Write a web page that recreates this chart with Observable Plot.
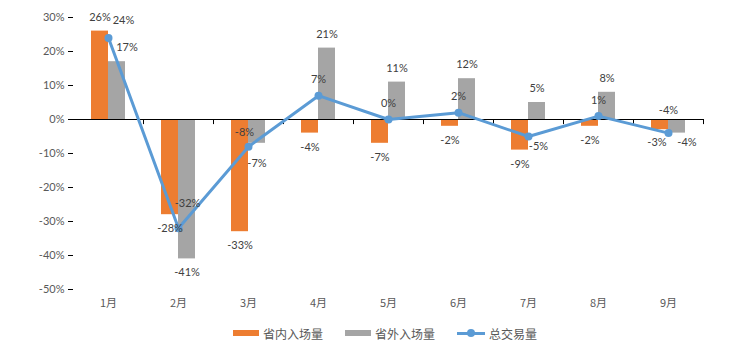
<!DOCTYPE html>
<html><head><meta charset="utf-8">
<script src="https://cdn.jsdelivr.net/npm/d3@7"></script>
<script src="https://cdn.jsdelivr.net/npm/@observablehq/plot@0.6"></script>
<style>
body{margin:0;background:#fff;font-family:Lato,"Noto Sans CJK SC",sans-serif;}
#chart svg{display:block;}
.legend{display:flex;align-items:center;height:34px;padding-left:233px;font-family:"Noto Sans CJK SC",sans-serif;font-size:12px;color:#595959;}
.item{display:flex;align-items:center;margin-right:22px;}
.sw{display:inline-block;width:26px;height:6px;margin-right:4px;}
.ln{position:relative;width:28px;height:3px;background:#5B9BD5;margin-right:4px;}
.ln::after{content:"";position:absolute;left:10px;top:-2.5px;width:8px;height:8px;border-radius:50%;background:#5B9BD5;}
</style></head><body>
<div id="chart"></div>
<div class="legend">
  <div class="item"><span class="sw" style="background:#ED7D31"></span><span id="l1"></span></div>
  <div class="item"><span class="sw" style="background:#A5A5A5"></span><span id="l2"></span></div>
  <div class="item"><span class="ln"></span><span id="l3"></span></div>
</div>
<script>
const months = ["1月","2月","3月","4月","5月","6月","7月","8月","9月"];
const inProv = [26,-28,-33,-4,-7,-2,-9,-2,-3];
const outProv = [17,-41,-7,21,11,12,5,8,-4];
const total = [24,-32,-8,7,0,2,-5,1,-4];
const yTicks = [30,20,10,0,-10,-20,-30,-40,-50];
const seriesNames = ["省内入场量","省外入场量","总交易量"];

document.getElementById("l1").textContent = seriesNames[0];
document.getElementById("l2").textContent = seriesNames[1];
document.getElementById("l3").textContent = seriesNames[2];

const inData = months.map((m,i)=>({m, v: inProv[i], i}));
const outData = months.map((m,i)=>({m, v: outProv[i], i}));
const totData = months.map((m,i)=>({m, v: total[i], i}));
const pct = d => d + "%";
const lbl = {fontSize: 11, fill: "#404040", text: d => pct(d.v)};

// label placement (Excel-like): bar labels outside the bar end, line labels above the point,
// with a few hand-nudged labels to avoid overlaps as in the original
const nudges = {
  in:  {8: [-3, -1]},
  out: {0: [10, 0], 2: [0, 6], 8: [10, -5]},
  tot: {0: [15, -1], 1: [9, -9], 2: [-4, 2], 6: [10, 26], 8: [0, -7]}
};
function labels(data, key, baseDx) {
  return data.map(d => {
    const [ndx, ndy] = nudges[key][d.i] || [0, 0];
    let dy;
    if (key === "tot") dy = -16;
    else dy = d.v >= 0 ? -14 : 14;
    return Plot.text([d], {x: "m", y: "v", dx: baseDx + ndx, dy: dy + ndy, ...lbl});
  });
}

const chart = Plot.plot({
  width: 750, height: 316,
  marginLeft: 73, marginRight: 47, marginTop: 17, marginBottom: 27,
  style: {fontFamily: "Lato, 'Noto Sans CJK SC', sans-serif", fontSize: "11px", color: "#595959", background: "#fff"},
  x: {type: "band", domain: months, padding: 0, label: null},
  y: {domain: [-50, 30], label: null},
  marks: [
    Plot.barY(inData, {x: "m", y: "v", fill: "#ED7D31", insetLeft: 18, insetRight: 35}),
    Plot.barY(outData, {x: "m", y: "v", fill: "#A5A5A5", insetLeft: 35, insetRight: 18}),
    Plot.ruleY([0], {stroke: "#000", strokeWidth: 1}),
    Plot.ruleX(months, {x: d => d, y1: 0, y2: -1.5, dx: 35, stroke: "#000"}),
    Plot.axisY({ticks: yTicks, tickFormat: pct, tickSize: 5, tickPadding: 4, fontSize: 11, color: "#595959", stroke: "#000"}),
    Plot.ruleX([0], {frameAnchor: "left", y1: -50, y2: 30, stroke: "#000"}),
    Plot.axisX({tickSize: 0, tickPadding: 10, fontSize: 11, fontFamily: "'Noto Sans CJK SC', sans-serif", color: "#595959"}),
    Plot.lineY(totData, {x: "m", y: "v", stroke: "#5B9BD5", strokeWidth: 3}),
    Plot.dot(totData, {x: "m", y: "v", fill: "#5B9BD5", r: 4}),
    ...labels(inData, "in", -8.5),
    ...labels(outData, "out", 8.5),
    ...labels(totData, "tot", 0)
  ]
});
document.getElementById("chart").appendChild(chart);
</script>
</body></html>
